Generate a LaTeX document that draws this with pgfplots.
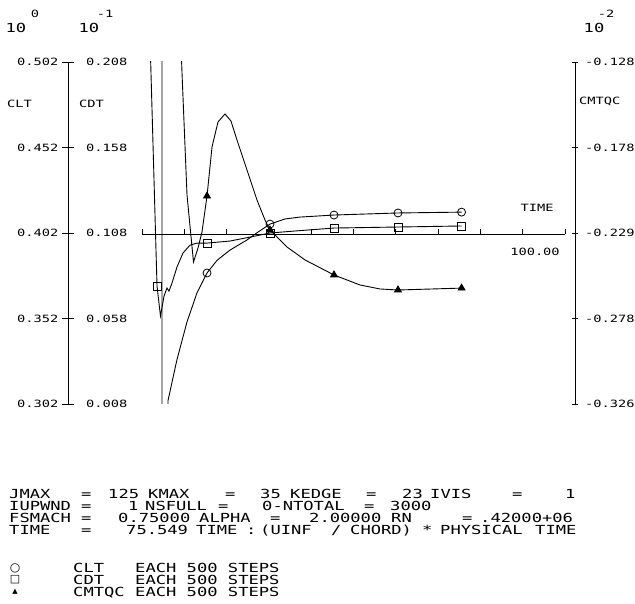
\documentclass[border=0pt]{standalone}
\usepackage{fontspec}
\setmainfont{DejaVu Sans}
\newfontfamily\plt[FakeStretch=1.37]{DejaVu Sans Mono}
\usepackage{pgfplots}
\usepackage{pgfplotstable}
\pgfplotsset{compat=1.18}

\newcommand\txt{\plt\fontsize{12.5}{12}\selectfont}
\newcommand\tck{\plt\fontsize{10}{10}\selectfont}
% text token at (x, baseline) in picture units measured from the top left
\newcommand\tk[3]{\node[anchor=base west,inner sep=0pt,font=\txt] at (#1pt,{603pt-#2pt}) {#3};}

% time histories, each on its own scale (CLT x1, CDT x10^-1, CMTQC x10^-2)
% m = 1 where a symbol is plotted (every 500 steps)
\pgfplotstableread{
t      v       m
4.70   1.500   0
4.75  -0.500   0
6.15   0.304   0
8.27   0.328   0
10.64  0.350   0
13.00  0.367   0
15.37  0.3786  1
17.73  0.386   0
20.80  0.392   0
24.82  0.3979  0
27.40  0.4025  0
30.26  0.4072  1
33.80  0.4102  0
37.35  0.4113  0
45.39  0.4125  1
60.52  0.4137  1
75.55  0.4142  1
}\cltdata

\pgfplotstableread{
t      v       m
1.00   0.300   0
3.55   0.0770  1
4.37   0.0594  0
5.20   0.0711  0
5.91   0.0758  0
6.38   0.0740  0
7.09   0.0787  0
8.27   0.0881  0
9.69   0.0963  0
11.35  0.1009  0
13.00  0.1021  0
15.37  0.1021  1
20.80  0.1033  0
25.53  0.1056  0
30.26  0.1080  1
37.35  0.1094  0
45.39  0.1109  1
60.52  0.1115  1
75.55  0.1121  1
}\cdtdata

\pgfplotstableread{
t      v       m
8.50  -0.0689  0
9.46  -0.1344  0
10.64 -0.2050  0
12.17 -0.2438  0
13.24 -0.2357  0
14.18 -0.2264  0
15.37 -0.2056  1
16.55 -0.1772  0
17.97 -0.1627  0
19.62 -0.1581  0
21.04 -0.1622  0
22.46 -0.1732  0
24.82 -0.1905  0
27.19 -0.2079  0
29.08 -0.2195  0
30.26 -0.2253  1
34.28 -0.2351  0
38.53 -0.2426  0
45.39 -0.2513  1
51.54 -0.2571  0
56.26 -0.2594  0
60.52 -0.2600  1
75.55 -0.2589  1
}\cmdata

\begin{document}
\begin{tikzpicture}
\path[use as bounding box] (0,0) rectangle (635pt,603pt);
\pgfplotsset{
  base/.style={
    scale only axis, width=507pt, height=342pt,
    at={(68pt,199pt)}, anchor=south west,
    xmin=-17.494, xmax=102.364,
    axis x line=none,
    axis line style={-, line width=0.9pt},
    every tick/.style={black, line width=0.9pt},
    tick align=center,
    unbounded coords=discard,
  },
  curve/.style={black, line width=0.9pt},
  syms/.style={black, only marks, mark options={solid, line width=0.8pt},
    restrict expr to domain={\thisrow{m}}{0.5:1.5}},
}

% CLT scale, left of the left line
\begin{axis}[base, ymin=0.302, ymax=0.502, axis y line*=left,
  ytick={0.302,0.352,0.402,0.452,0.502},
  yticklabels={0.302,0.352,0.402,0.452,0.502},
  major tick length=11pt,
  yticklabel style={font=\tck, anchor=east, inner sep=0pt, xshift=-4pt}]
\addplot[curve] table[x=t, y=v] {\cltdata};
\addplot[syms, mark=o, mark size=4pt] table[x=t, y=v] {\cltdata};
\end{axis}

% CDT scale, right of the left line
\begin{axis}[base, ymin=0.008, ymax=0.208, axis y line*=left,
  y axis line style={draw=none}, major tick length=0pt,
  ytick={0.008,0.058,0.108,0.158,0.208},
  yticklabels={0.008,0.058,0.108,0.158,0.208},
  yticklabel style={font=\tck, anchor=west, inner sep=0pt, xshift=18pt}]
\addplot[curve] table[x=t, y=v] {\cdtdata};
\addplot[syms, mark=square, mark size=4pt] table[x=t, y=v] {\cdtdata};
\end{axis}

% CMTQC scale on the right line
\begin{axis}[base, ymin=-0.326, ymax=-0.128, axis y line*=right,
  major tick length=6pt,
  ytick={-0.326,-0.2765,-0.227,-0.1775,-0.128},
  yticklabels={-0.326,-0.278,-0.229,-0.178,-0.128},
  yticklabel style={font=\tck, anchor=west, inner sep=0pt, xshift=7pt}]
\addplot[curve] table[x=t, y=v] {\cmdata};
\addplot[syms, mark=triangle*, mark size=4pt] table[x=t, y=v] {\cmdata};
\end{axis}

% TIME axis, drawn at CLT = 0.402
\begin{axis}[scale only axis, width=423pt, height=20pt,
  at={(142pt,369pt)}, anchor=south west,
  xmin=0, xmax=100, ymin=0, ymax=1,
  axis x line*=bottom, axis y line=none,
  axis line style={-, line width=0.9pt},
  every tick/.style={black, line width=0.9pt},
  xtick={0,10,...,100}, xticklabels={},
  tick align=inside, major tick length=5pt]
\addplot[draw=none] coordinates {(0,0)};
\end{axis}

% scale factors and titles
\node[font=\txt, inner sep=0pt] at (16pt,{603pt-28pt}) {10};
\node[font=\tck, inner sep=0pt] at (35pt,{603pt-14pt}) {0};
\node[font=\txt, inner sep=0pt] at (89pt,{603pt-28pt}) {10};
\node[font=\tck, inner sep=0pt] at (105pt,{603pt-14pt}) {-1};
\node[font=\txt, inner sep=0pt] at (594pt,{603pt-28pt}) {10};
\node[font=\tck, inner sep=0pt] at (606pt,{603pt-14pt}) {-2};
\node[font=\tck, anchor=west, inner sep=0pt] at (7pt,{603pt-104pt}) {CLT};
\node[font=\tck, anchor=west, inner sep=0pt] at (79pt,{603pt-104pt}) {CDT};
\node[font=\tck, anchor=west, inner sep=0pt] at (579pt,{603pt-101pt}) {CMTQC};
\node[font=\tck, anchor=center, inner sep=0pt] at (537pt,{603pt-208pt}) {TIME};
\node[font=\tck, anchor=center, inner sep=0pt] at (535pt,{603pt-252pt}) {100.00};

% run parameters
\tk{9}{498.5}{JMAX}   \tk{81}{498.5}{=} \tk{108}{498.5}{125}
\tk{148}{498.5}{KMAX} \tk{225}{498.5}{=} \tk{260}{498.5}{35}
\tk{290}{498.5}{KEDGE} \tk{366}{498.5}{=} \tk{402}{498.5}{23}
\tk{430}{498.5}{IVIS} \tk{512}{498.5}{=} \tk{565}{498.5}{1}

\tk{9}{510.5}{IUPWND} \tk{81}{510.5}{=} \tk{128}{510.5}{1}
\tk{145}{510.5}{NSFULL} \tk{218}{510.5}{=} \tk{262}{510.5}{0-NTOTAL}
\tk{364}{510.5}{=} \tk{390}{510.5}{3000}

\tk{9}{522.5}{FSMACH} \tk{81}{522.5}{=} \tk{118}{522.5}{0.75000}
\tk{199}{522.5}{ALPHA} \tk{270}{522.5}{=} \tk{309}{522.5}{2.00000}
\tk{391}{522.5}{RN} \tk{462}{522.5}{=} \tk{480}{522.5}{.42000+06}

\tk{9}{534.5}{TIME} \tk{81}{534.5}{=} \tk{126}{534.5}{75.549}
\tk{196}{534.5}{TIME} \tk{246}{534.5}{:} \tk{260}{534.5}{(UINF}
\tk{331}{534.5}{/} \tk{350}{534.5}{CHORD)} \tk{422}{534.5}{*}
\tk{440}{534.5}{PHYSICAL} \tk{535}{534.5}{TIME}

% legend
\node[font=\fontsize{12}{12}\selectfont, inner sep=0pt] at (15pt,{603pt-568pt}) {○};
\node[font=\fontsize{11}{11}\selectfont, inner sep=0pt] at (15pt,{603pt-580pt}) {□};
\node[font=\fontsize{7}{7}\selectfont, inner sep=0pt] at (15pt,{603pt-592pt}) {▲};
\tk{73}{572.5}{CLT}   \tk{135}{572.5}{EACH 500 STEPS}
\tk{73}{584.5}{CDT}   \tk{135}{584.5}{EACH 500 STEPS}
\tk{73}{596.5}{CMTQC} \tk{135}{596.5}{EACH 500 STEPS}
\end{tikzpicture}
\end{document}
